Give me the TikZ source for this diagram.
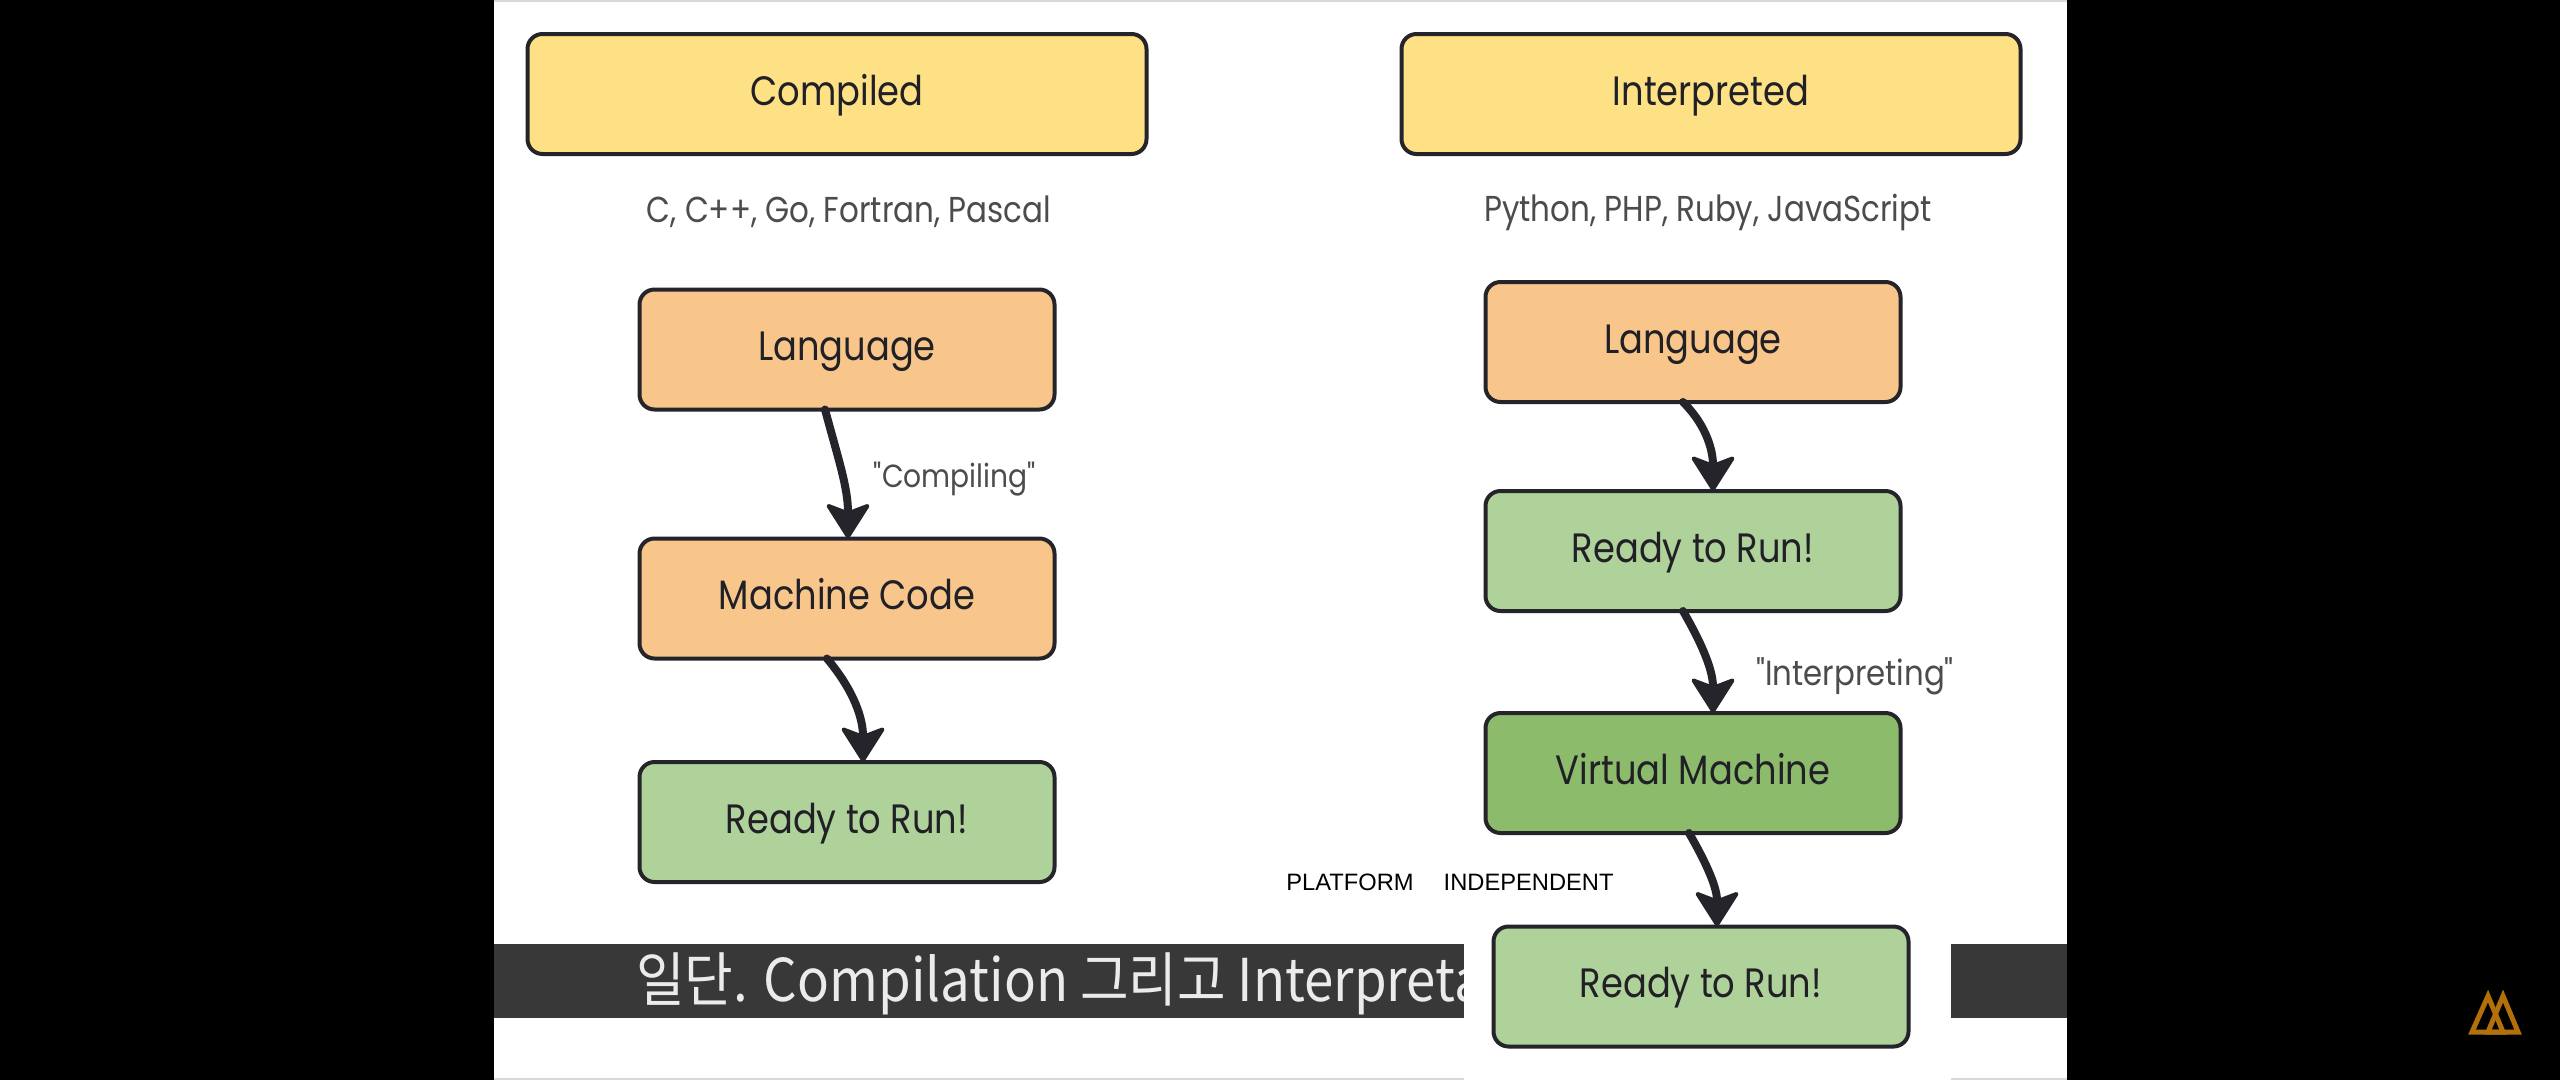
\documentclass[tikz,border=0pt]{standalone}
\usepackage{fontspec}
\setmainfont[FakeStretch=0.86]{Poppins}
\newfontfamily\quotefont[FakeStretch=0.88]{Poppins}
\newfontfamily\krfont[FakeStretch=0.895]{Noto Sans CJK KR}
\newfontfamily\arialfont{Liberation Sans}
\usetikzlibrary{arrows.meta}
\definecolor{titlefill}{HTML}{FEE085}
\definecolor{orangefill}{HTML}{F8C68A}
\definecolor{greenfill}{HTML}{AFD29A}
\definecolor{vmfill}{HTML}{8CBB6B}
\definecolor{inkdark}{HTML}{24242A}
\definecolor{logoorange}{HTML}{B36F0A}
\tikzset{every box/.style={draw=inkdark, line width=4pt, rounded corners=15pt, inner sep=0pt,
   outer sep=0pt, minimum height=120pt, text height=27pt, text depth=5pt, text=inkdark!90!black,
   font=\fontsize{41}{41}\selectfont},
 titlebox/.style={every box, minimum width=619pt, fill=titlefill},
 orangebox/.style={every box, minimum width=415pt, fill=orangefill},
 greenbox/.style={every box, minimum width=415pt, fill=greenfill},
 vmbox/.style={every box, minimum width=415pt, fill=vmfill},
 note/.style={text=black!70, inner sep=0pt, font=\fontsize{36}{36}\selectfont},
 quoted/.style={text=black!70, inner sep=0pt, font=\quotefont\fontsize{#1}{36}\selectfont},
 flowarrow/.style={draw=inkdark, line width=8pt, line cap=round,
   -{Stealth[length=38pt,width=48pt,inset=9pt,round,line width=4pt]}},
 logoline/.style={draw=logoorange, line width=5pt, line join=miter},
 }

\begin{document}
\begin{tikzpicture}[x=1pt, y=-1pt]
        \useasboundingbox (0,0) rectangle (2560,1080);
        \fill[black] (0,0) rectangle (2560,1080);
        \fill[white] (494,0) rectangle (2067,1080);
        \fill[black!15] (494,0) rectangle (2067,1.5);
        \fill[black!15] (494,1078) rectangle (2067,1080);
        % subtitle strip, partly hidden by the patch
        \fill[black!78] (494,944) rectangle (2067,1018);
        \node[anchor=base west, inner sep=0pt, text=black!8, font=\krfont\fontsize{59}{59}\selectfont]
            (subtitle) at (636,1001) {일단. Compilation 그리고 Interpreta};
        \fill[white] (1464,944) rectangle (1951,1080);
        \foreach \nm/\x/\y/\sty/\txt in {compiled/837/94/titlebox/Compiled, interpreted/1711/94/titlebox/Interpreted,
            langa/847/349.5/orangebox/Language, mach/847/598.5/orangebox/Machine Code, runa/847/822/greenbox/Ready to Run!,
            langb/1693/342/orangebox/Language, runb/1693/551/greenbox/Ready to Run!,
            vm/1693/773/vmbox/Virtual Machine, runc/1701/986.5/greenbox/Ready to Run!} {
            \node[\sty] (\nm) at (\x,\y) {\txt};
        }
        \node[note] (langsa) at (849,212) {C, C++, Go, Fortran, Pascal};
        \node[note] (langsb) at (1708,212) {Python, PHP, Ruby, JavaScript};
        \node[quoted=32] (compiling) at (955,479) {"Compiling"};
        \node[quoted=35] (interpreting) at (1855,676) {"Interpreting"};
        \node[font=\arialfont\fontsize{23.7}{24}\selectfont, text=black, inner sep=0pt]
            (platform) at (1450,882) {PLATFORM\hspace{30pt}INDEPENDENT};
        \foreach \a/\sa/\b/\sb/\o in {langa/-22/mach/1/-75, mach/-20/runa/16/-50, langb/-10/runb/20/-45,
            runb/-10/vm/20/-60, vm/-4/runc/16/-60} {
            \draw[flowarrow] ([xshift=\sa pt]\a.south) to[out=\o, in=90] ([xshift=\sb pt]\b.north);
        }
        % logo, bottom right
        \draw[logoline] (2472,1032) -- (2488,996) -- (2503,1032) -- cycle;
        \draw[logoline] (2488,1032) -- (2503,996) -- (2518,1032) -- cycle;
    \end{tikzpicture}
\end{document}
